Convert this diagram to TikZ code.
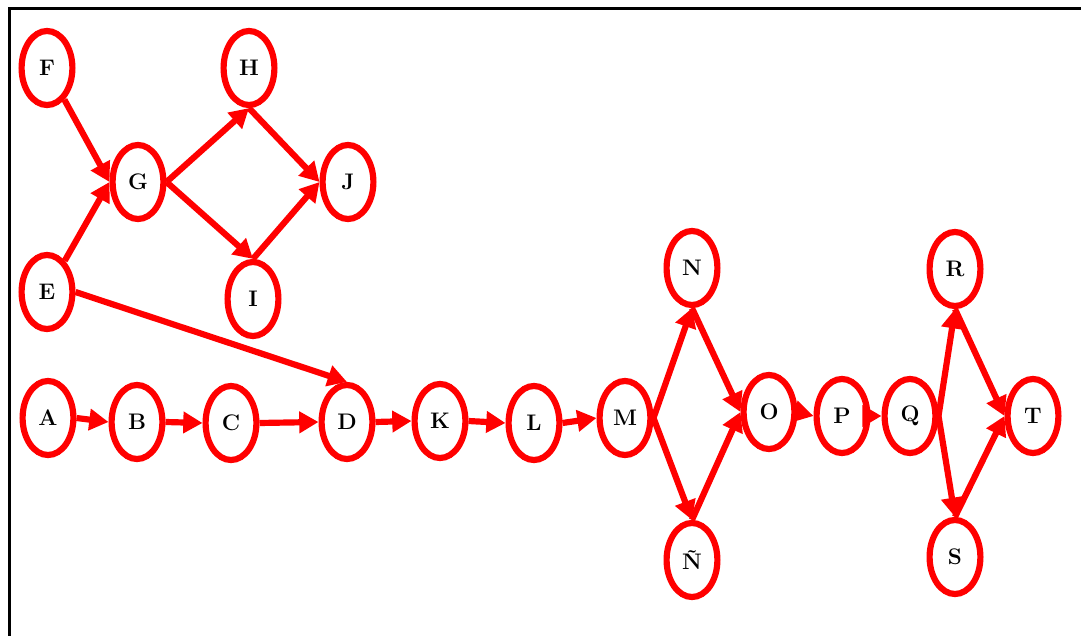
\documentclass[tikz,border=0pt]{standalone}
\usepackage{tikz}
\usetikzlibrary{arrows.meta,shapes.geometric}

\begin{document}
\begin{tikzpicture}[x=0.025cm,y=-0.025cm,
  vtx/.style={draw=red,ellipse,line width=4.4pt,minimum width=1.27cm,minimum height=1.85cm,inner sep=0pt,font=\bfseries\fontsize{16}{18}\selectfont},
  arr/.style={-{Triangle[length=4.8mm,width=5.2mm]},red,line width=4.4pt}]
\useasboundingbox (0,0) rectangle (1081,636);
\draw[line width=1.5pt] (9.5,636) |- (1081,8.5);
% upper group
\node[vtx] (F) at (47,68) {F};
\node[vtx] (H) at (249,68) {H};
\node[vtx] (G) at (138,182) {G};
\node[vtx] (J) at (348,182) {J};
\node[vtx] (E) at (47,292) {E};
\node[vtx] (I) at (253,299) {I};
% main row
\node[vtx] (A) at (48,418) {A};
\node[vtx] (B) at (137,422) {B};
\node[vtx] (C) at (231,423) {C};
\node[vtx] (D) at (347,422) {D};
\node[vtx] (K) at (440,421) {K};
\node[vtx] (L) at (534,423) {L};
\node[vtx] (M) at (625,418) {M};
\node[vtx] (N) at (692,268) {N};
\node[vtx] (Nt) at (692,560) {\~N};
\node[vtx] (O) at (769,412) {O};
\node[vtx] (P) at (842,416) {P};
\node[vtx] (Q) at (910,416) {Q};
\node[vtx] (R) at (955,269) {R};
\node[vtx] (S) at (955,557) {S};
\node[vtx] (T) at (1033,416) {T};
\draw[arr] (F)--(G.west); \draw[arr] (E)--(G.west);
\draw[arr] (G.east)--(H.south); \draw[arr] (G.east)--(I.north);
\draw[arr] (H.south)--(J.west); \draw[arr] (I.north)--(J.west);
\draw[arr] (E.east)--(D.north);
\foreach \a/\b in {A/B,B/C,C/D,D/K,K/L,L/M,O/P,P/Q} \draw[arr] (\a.east)--(\b.west);
% split and join
\foreach \a/\b/\c in {M/N/O,Q/R/T} {
  \draw[arr] (\a.east)--(\b.south);
  \draw[arr] (\b.south)--(\c.west);
}
\foreach \a/\b/\c in {M/Nt/O,Q/S/T} {
  \draw[arr] (\a.east)--(\b.north);
  \draw[arr] (\b.north)--(\c.west);
}
\end{tikzpicture}
\end{document}
